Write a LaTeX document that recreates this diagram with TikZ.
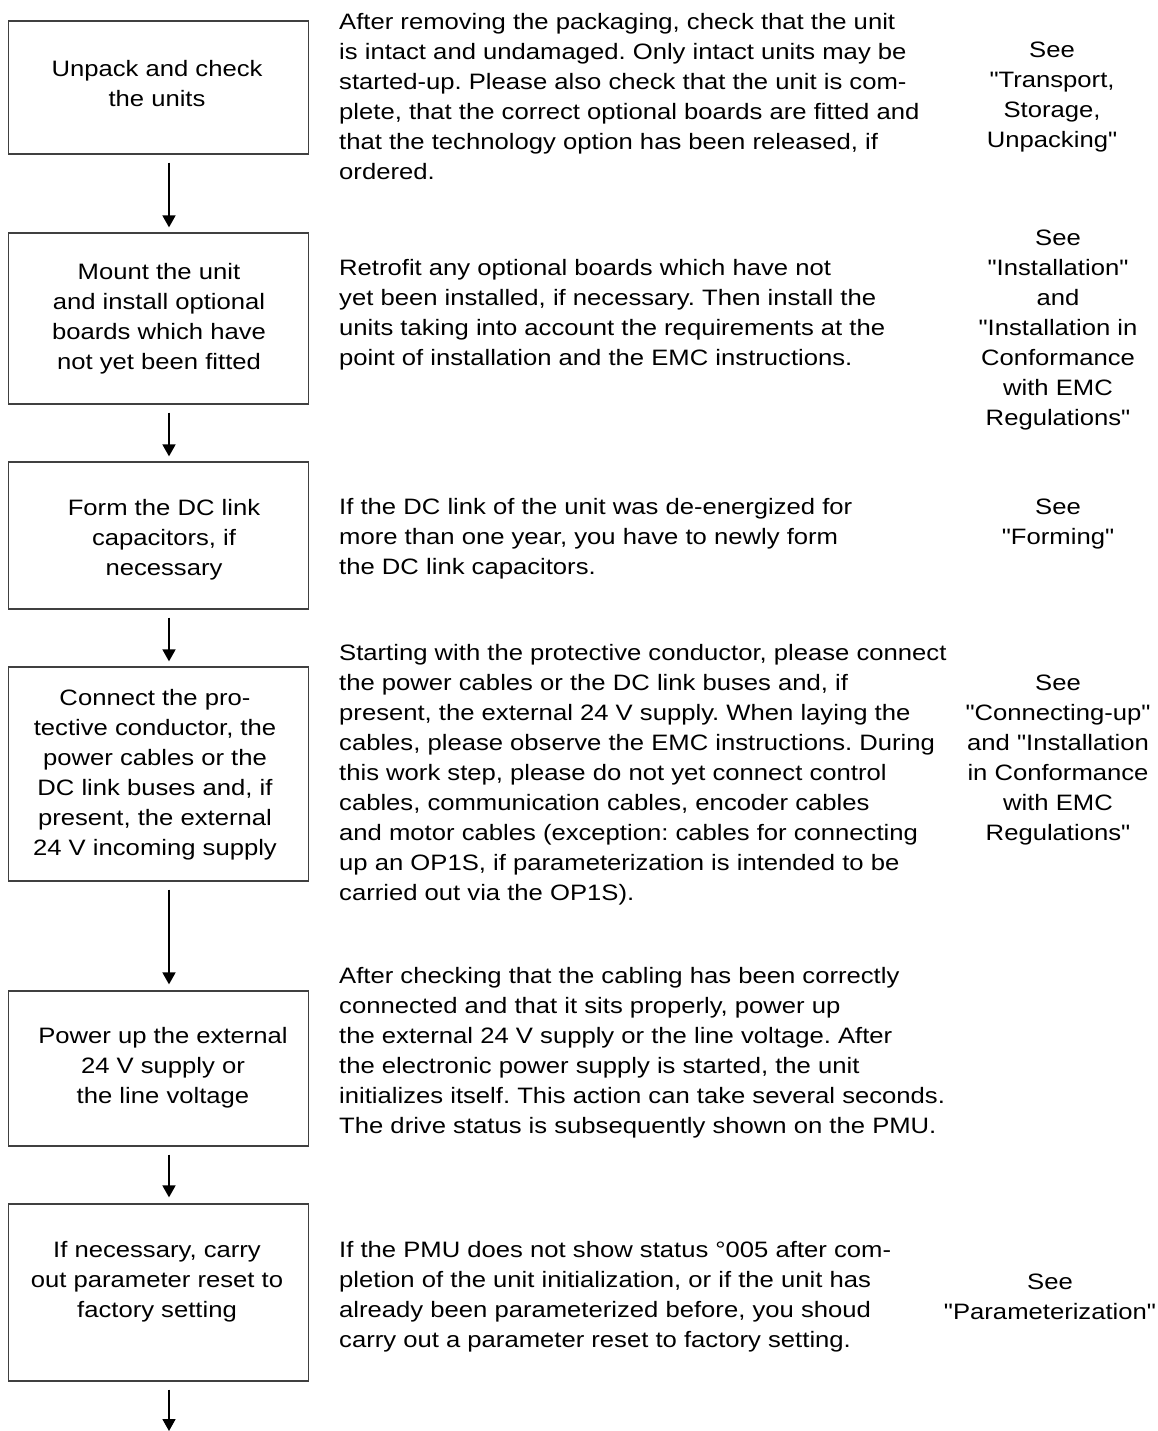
\documentclass[tikz,border=0pt]{standalone}
\usepackage{fontspec}
\setmainfont{Liberation Sans}[FakeStretch=1.15, Ligatures=TeXOff]
\usetikzlibrary{arrows.meta}
\newcommand{\qq}{\symbol{34}}
\begin{document}
\frenchspacing
\begin{tikzpicture}[x=1pt, y=-1pt, font=\fontsize{22.3pt}{30pt}\selectfont,
  box/.style={draw=black!75, line width=1.3pt, minimum width=300pt, inner sep=0pt},
  boxtxt/.style={align=center, inner sep=0pt},
  desc/.style={align=left, anchor=west, inner sep=0pt},
  seeref/.style={align=center, inner sep=0pt},
  arr/.style={line width=1.8pt, -{Triangle[width=13pt,length=12pt]}}]
\useasboundingbox (0,0) rectangle (1158,1431);
\fill[white] (0,0) rectangle (1158,1431);
\coordinate (ax) at (169,0);
\coordinate (end) at (169,1431);

% boxes
\node[box, minimum height=133pt] (b1) at (158.3,87.5) {};
\node[box, minimum height=171pt] (b2) at (158.3,318.5) {};
\node[box, minimum height=147pt] (b3) at (158.3,535.5) {};
\node[box, minimum height=214pt] (b4) at (158.3,774) {};
\node[box, minimum height=155pt] (b5) at (158.3,1068.5) {};
\node[box, minimum height=177pt] (b6) at (158.3,1292.5) {};

% box texts
\node[boxtxt] (t1) at (157,83.5) {Unpack and check\\the units};
\node[boxtxt] (t2) at (159,319) {Mount the unit\\and install optional\\boards which have\\not yet been fitted};
\node[boxtxt] (t3) at (164,540) {Form the DC link\\capacitors, if\\necessary};
\node[boxtxt] (t4) at (155,775) {Connect the pro-\\tective conductor, the\\power cables or the\\DC link buses and, if\\present, the external\\24 V incoming supply};
\node[boxtxt] (t5) at (163,1068) {Power up the external\\24 V supply or\\the line voltage};
\node[boxtxt] (t6) at (157,1282) {If necessary, carry\\out parameter reset to\\factory setting};

% descriptions
\node[desc] (d1) at (339,97) {After removing the packaging, check that the unit\\is intact and undamaged. Only intact units may be\\started-up. Please also check that the unit is com-\\plete, that the correct optional boards are fitted and\\that the technology option has been released, if\\ordered.};
\node[desc] (d2) at (339,315) {Retrofit any optional boards which have not\\yet been installed, if necessary. Then install the\\units taking into account the requirements at the\\point of installation and the EMC instructions.};
\node[desc] (d3) at (339,539) {If the DC link of the unit was de-energized for\\more than one year, you have to newly form\\the DC link capacitors.};
\node[desc] (d4) at (339,775) {Starting with the protective conductor, please connect\\the power cables or the DC link buses and, if\\present, the external 24 V supply. When laying the\\cables, please observe the EMC instructions. During\\this work step, please do not yet connect control\\cables, communication cables, encoder cables\\and motor cables (exception: cables for connecting\\up an OP1S, if parameterization is intended to be\\carried out via the OP1S).};
\node[desc] (d5) at (339,1053) {After checking that the cabling has been correctly\\connected and that it sits properly, power up\\the external 24 V supply or the line voltage. After\\the electronic power supply is started, the unit\\initializes itself. This action can take several seconds.\\The drive status is subsequently shown on the PMU.};
\node[desc] (d6) at (339,1297) {If the PMU does not show status °005 after com-\\pletion of the unit initialization, or if the unit has\\already been parameterized before, you shoud\\carry out a parameter reset to factory setting.};

% references
\node[seeref] (r1) at (1052,97) {See\\\qq Transport,\\Storage,\\Unpacking\qq};
\node[seeref] (r2) at (1058,330) {See\\\qq Installation\qq\\and\\\qq Installation in\\Conformance\\with EMC\\Regulations\qq};
\node[seeref] (r3) at (1058,524) {See\\\qq Forming\qq};
\node[seeref] (r4) at (1058,760) {See\\\qq Connecting-up\qq\\and \qq Installation\\in Conformance\\with EMC\\Regulations\qq};
\node[seeref] (r6) at (1050,1297) {See\\\qq Parameterization\qq};

% arrows
\draw[arr, shorten <=8pt, shorten >=5pt] (b1.south -| ax) -- (b2.north -| ax);
\draw[arr, shorten <=8pt, shorten >=5pt] (b2.south -| ax) -- (b3.north -| ax);
\draw[arr, shorten <=8pt, shorten >=5pt] (b3.south -| ax) -- (b4.north -| ax);
\draw[arr, shorten <=8pt, shorten >=6pt] (b4.south -| ax) -- (b5.north -| ax);
\draw[arr, shorten <=8pt, shorten >=6pt] (b5.south -| ax) -- (b6.north -| ax);
\draw[arr, shorten <=8pt] (b6.south -| ax) -- (end);
\end{tikzpicture}
\end{document}
